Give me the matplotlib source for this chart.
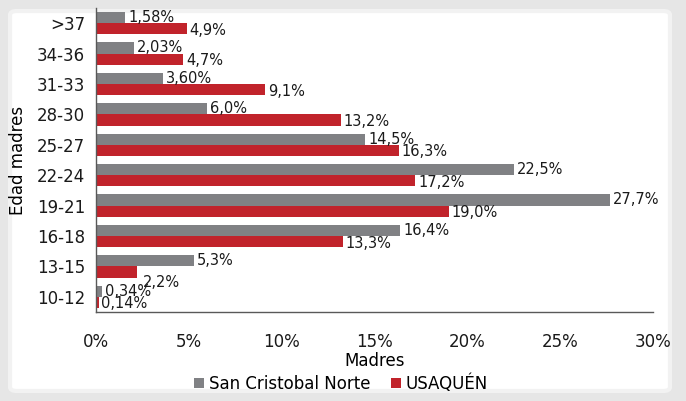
import numpy as np
from matplotlib import pyplot as plt
from matplotlib.patches import FancyBboxPatch

# age groups, bottom to top
groups = ['10-12', '13-15', '16-18', '19-21', '22-24', '25-27', '28-30', '31-33', '34-36', '>37']
san_cristobal = [0.34, 5.3, 16.4, 27.7, 22.5, 14.5, 6.0, 3.60, 2.03, 1.58]
usaquen = [0.14, 2.2, 13.3, 19.0, 17.2, 16.3, 13.2, 9.1, 4.7, 4.9]
san_cristobal_labels = ['0,34%', '5,3%', '16,4%', '27,7%', '22,5%', '14,5%', '6,0%', '3,60%', '2,03%', '1,58%']
usaquen_labels = ['0,14%', '2,2%', '13,3%', '19,0%', '17,2%', '16,3%', '13,2%', '9,1%', '4,7%', '4,9%']
series_names = ['San Cristobal Norte', 'USAQUÉN']

GREY = '#808184'
RED = '#c1232b'

fig = plt.figure(figsize=(6.86, 4.01), dpi=100)
fig.patch.set_facecolor('#e6e6e6')
panel = FancyBboxPatch(
    (10 / 686, 10 / 401), 660 / 686, 380 / 401,
    boxstyle='round,pad=0,rounding_size=0.01',
    transform=fig.transFigure, facecolor='white', edgecolor='#f2f2f2',
    linewidth=3, zorder=-10,
)
fig.patches.append(panel)

ax = fig.add_axes((96 / 686, 1 - 312 / 401, 557 / 686, 304 / 401))
ax.set_facecolor('none')

y = np.arange(len(groups))
h = 0.37
ax.barh(y + h / 2, san_cristobal, height=h, color=GREY, label=series_names[0])
ax.barh(y - h / 2, usaquen, height=h, color=RED, label=series_names[1])

for i in range(len(groups)):
    ax.text(san_cristobal[i] + 0.15, y[i] + h / 2, san_cristobal_labels[i],
            va='center', ha='left', fontsize=10.5, color='#1a1a1a')
    dy = -0.3 if groups[i] == '13-15' else 0.0
    dx = 0.2 if groups[i] == '13-15' else 0.0
    ax.text(usaquen[i] + 0.15 + dx, y[i] - h / 2 + dy - 0.05, usaquen_labels[i],
            va='center', ha='left', fontsize=10.5, color='#1a1a1a')

ax.set_xlim(0, 30)
ax.set_ylim(-0.5, len(groups) - 0.5)
ax.set_xticks([0, 5, 10, 15, 20, 25, 30])
ax.set_xticklabels(['0%', '5%', '10%', '15%', '20%', '25%', '30%'])
ax.set_yticks(y)
ax.set_yticklabels(groups)
ax.tick_params(axis='both', length=0, labelsize=12, colors='#1a1a1a')
ax.tick_params(axis='x', pad=15)
ax.tick_params(axis='y', pad=8)
for side in ('top', 'right'):
    ax.spines[side].set_visible(False)
for side in ('left', 'bottom'):
    ax.spines[side].set_color('#595959')
    ax.spines[side].set_linewidth(1.0)

ax.set_xlabel('Madres', fontsize=12, labelpad=1)
ax.set_ylabel('Edad madres', fontsize=12, labelpad=7)

ax.legend(loc='center', bbox_to_anchor=(0.44, -0.235), ncol=2, frameon=False,
          fontsize=12, handlelength=0.6, handleheight=0.6, handletextpad=0.3,
          columnspacing=1.2)

fig.savefig('out.png', dpi=100, facecolor=fig.get_facecolor())
